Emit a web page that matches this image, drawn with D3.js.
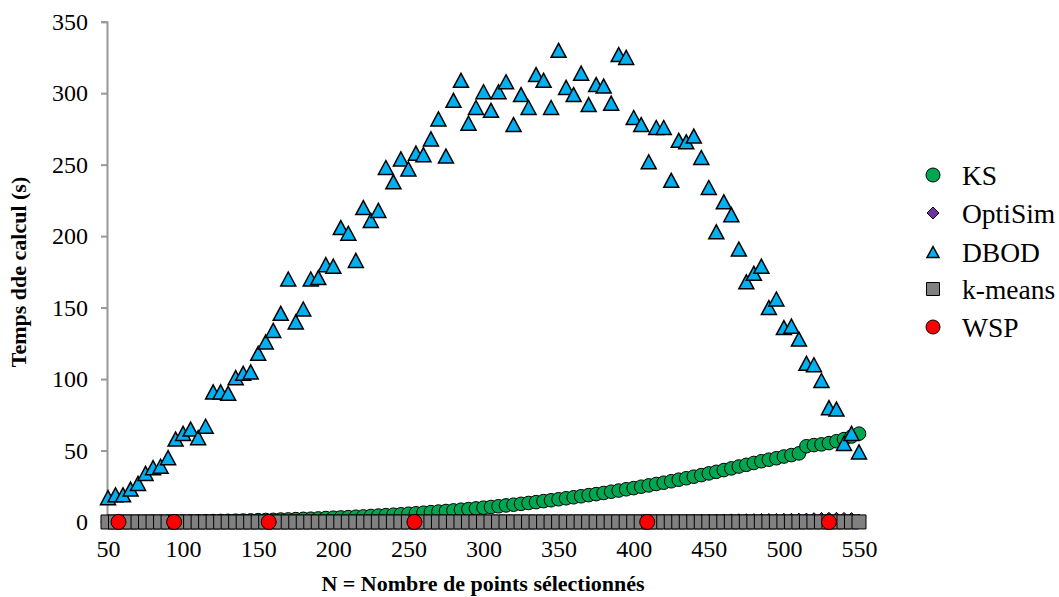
<!DOCTYPE html>
<html><head><meta charset="utf-8">
<script src="https://cdn.jsdelivr.net/npm/d3@7"></script>
<style>
html,body{margin:0;padding:0;background:#fff;}
text{font-family:"Liberation Serif","Times New Roman",serif;fill:#000;}
</style></head>
<body><svg id="c" width="1059" height="597"></svg>
<script>
// ---- data ----
const nValues = [50,55,60,65,70,75,80,85,90,95,100,105,110,115,120,125,130,135,140,145,150,155,160,165,170,175,180,185,190,195,200,205,210,215,220,225,230,235,240,245,250,255,260,265,270,275,280,285,290,295,300,305,310,315,320,325,330,335,340,345,350,355,360,365,370,375,380,385,390,395,400,405,410,415,420,425,430,435,440,445,450,455,460,465,470,475,480,485,490,495,500,505,510,515,520,525,530,535,540,545,550];
const ksValues = [0.05,0.06,0.08,0.1,0.13,0.16,0.19,0.23,0.27,0.32,0.37,0.43,0.49,0.56,0.64,0.72,0.81,0.91,1.0,1.1,1.25,1.4,1.5,1.7,1.8,2.0,2.2,2.3,2.5,2.8,3.0,3.2,3.4,3.7,3.9,4.2,4.5,4.8,5.1,5.4,5.8,6.1,6.5,6.9,7.3,7.7,8.1,8.6,9.0,9.5,10.0,10.5,11.0,11.6,12.1,12.7,13.3,13.9,14.6,15.2,15.9,16.6,17.3,18.0,18.8,19.5,20.3,21.2,22.0,22.9,23.7,24.7,25.6,26.6,27.5,28.5,29.6,30.6,31.7,32.8,34.0,35.1,36.3,37.5,38.8,40.0,41.3,42.5,43.6,44.6,45.8,46.8,48.0,53.0,53.8,54.3,55.2,56.5,58.0,59.8,61.8];
const optisimValues = [0.0,0.0,0.0,0.0,0.0,0.0,0.0,0.0,0.0,0.0,0.01,0.01,0.01,0.01,0.02,0.02,0.02,0.03,0.03,0.03,0.04,0.04,0.05,0.05,0.06,0.06,0.07,0.08,0.08,0.09,0.1,0.11,0.12,0.13,0.14,0.15,0.16,0.17,0.18,0.2,0.21,0.22,0.24,0.25,0.27,0.28,0.3,0.32,0.34,0.36,0.38,0.4,0.42,0.44,0.46,0.49,0.51,0.54,0.56,0.59,0.62,0.65,0.68,0.71,0.74,0.77,0.8,0.84,0.87,0.91,0.95,0.98,1.02,1.06,1.1,1.14,1.18,1.22,1.26,1.3,1.35,1.4,1.44,1.49,1.54,1.59,1.64,1.69,1.74,1.8,1.85,1.9,1.96,2.02,2.3,2.5,2.6,2.6,2.5,2.4,1.4];
const dbodValues = [17,19,19,23,27,34,38,39,45,58,62,65,59,67,91,91,90,101,104,105,118,126,134,146,170,140,149,170,171,180,179,206,202,183,220,211,218,248,238,254,247,258,257,268,282,256,295,309,279,290,301,288,301,308,278,299,290,313,309,290,330,304,299,314,292,306,305,293,327,325,283,278,252,276,276,239,267,266,270,255,234,203,224,215,191,168,174,179,150,156,136,137,128,111,110,99,80,79,55,62,49];
const kmeansValues = [0.01,0.01,0.01,0.01,0.01,0.01,0.01,0.01,0.01,0.01,0.01,0.01,0.01,0.01,0.01,0.01,0.01,0.01,0.01,0.01,0.02,0.02,0.02,0.02,0.02,0.02,0.02,0.02,0.02,0.02,0.02,0.02,0.02,0.02,0.02,0.02,0.02,0.02,0.02,0.02,0.03,0.03,0.03,0.03,0.03,0.03,0.03,0.03,0.03,0.03,0.03,0.03,0.03,0.03,0.03,0.03,0.03,0.03,0.03,0.03,0.04,0.04,0.04,0.04,0.04,0.04,0.04,0.04,0.04,0.04,0.04,0.04,0.04,0.04,0.04,0.04,0.04,0.04,0.04,0.04,0.05,0.05,0.05,0.05,0.05,0.05,0.05,0.05,0.05,0.05,0.05,0.05,0.05,0.05,0.05,0.05,0.05,0.05,0.05,0.05,0.05];
const wspN = [57,94,157,254,409,530];
const wspValues = [0.05,0.05,0.05,0.05,0.05,0.05];
const xTicks = [50,100,150,200,250,300,350,400,450,500,550];
const yTicks = [0,50,100,150,200,250,300,350];
const seriesNames = ["KS","OptiSim","DBOD","k-means","WSP"];

// ---- layout ----
const svg = d3.select("#c");
const x = d3.scaleLinear().domain([50,550]).range([108,859]);
const y = d3.scaleLinear().domain([0,350]).range([522,21.7]);
const axisColor = "#989898";

// y axis
const yAxis = svg.append("g").attr("transform","translate(107,0)")
  .call(d3.axisLeft(y).tickValues(yTicks).tickSize(6).tickPadding(13).tickFormat(d3.format("d")));
yAxis.select(".domain").attr("stroke",axisColor).attr("stroke-width",2);
yAxis.selectAll(".tick line").attr("stroke",axisColor).attr("stroke-width",2);
yAxis.selectAll("text").attr("font-size",24).attr("font-family","Liberation Serif").attr("fill","#000");

// x axis
const xAxis = svg.append("g").attr("transform","translate(0,522)")
  .call(d3.axisBottom(x).tickValues(xTicks).tickSize(0).tickPadding(18).tickFormat(d3.format("d")));
xAxis.select(".domain").attr("stroke",axisColor).attr("stroke-width",2);
xAxis.selectAll("text").attr("font-size",24).attr("font-family","Liberation Serif").attr("fill","#000");

// axis titles
svg.append("text").attr("transform","translate(26,272) rotate(-90)")
  .attr("text-anchor","middle").attr("font-weight","bold").attr("font-size",22)
  .text("Temps dde calcul (s)");
svg.append("text").attr("x",483).attr("y",591)
  .attr("text-anchor","middle").attr("font-weight","bold").attr("font-size",22)
  .text("N = Nombre de points sélectionnés");

// marker shapes
const tri = (w,h)=>`M${-w/2},${h/2}L${w/2},${h/2}L0,${-h/2}Z`;
const dia = (s)=>`M0,${-s}L${s},0L0,${s}L${-s},0Z`;
const sq = (s)=>`M${-s/2},${-s/2}h${s}v${s}h${-s}Z`;

const plot = svg.append("g");
// KS
plot.append("g").selectAll("circle").data(nValues.map((n,i)=>[n,ksValues[i]])).join("circle")
  .attr("cx",d=>x(d[0])).attr("cy",d=>y(d[1])).attr("r",6.8)
  .attr("fill","#00A651").attr("stroke","#000").attr("stroke-width",1);
// OptiSim
plot.append("g").selectAll("path").data(nValues.map((n,i)=>[n,optisimValues[i]])).join("path")
  .attr("transform",d=>`translate(${x(d[0])},${y(d[1])})`).attr("d",dia(6))
  .attr("fill","#7030A0").attr("stroke","#000").attr("stroke-width",1);
// DBOD
plot.append("g").selectAll("path").data(nValues.map((n,i)=>[n,dbodValues[i]])).join("path")
  .attr("transform",d=>`translate(${x(d[0])},${y(d[1])})`).attr("d",tri(15,14))
  .attr("fill","#00B0F0").attr("stroke","#000").attr("stroke-width",1.5).attr("stroke-linejoin","miter");
// k-means
plot.append("g").selectAll("path").data(nValues.map((n,i)=>[n,kmeansValues[i]])).join("path")
  .attr("transform",d=>`translate(${x(d[0])},${y(d[1])})`).attr("d",sq(14))
  .attr("fill","#808080").attr("stroke","#000").attr("stroke-width",1);
// WSP
plot.append("g").selectAll("circle").data(wspN.map((n,i)=>[n,wspValues[i]])).join("circle")
  .attr("cx",d=>x(d[0])).attr("cy",d=>y(d[1])).attr("r",7.5)
  .attr("fill","#FF0000").attr("stroke","#000").attr("stroke-width",1);

// legend
const legend = svg.append("g");
const legY = [175,213,252,289,327];
const legDraw = [
  g=>g.append("circle").attr("r",7).attr("fill","#00A651").attr("stroke","#000").attr("stroke-width",1),
  g=>g.append("path").attr("d",dia(6)).attr("fill","#7030A0").attr("stroke","#000").attr("stroke-width",1),
  g=>g.append("path").attr("d",tri(12,11)).attr("fill","#00B0F0").attr("stroke","#000").attr("stroke-width",1.5),
  g=>g.append("path").attr("d",sq(13)).attr("fill","#808080").attr("stroke","#000").attr("stroke-width",1),
  g=>g.append("circle").attr("r",7).attr("fill","#FF0000").attr("stroke","#000").attr("stroke-width",1)
];
seriesNames.forEach((name,i)=>{
  const g = legend.append("g").attr("transform",`translate(933,${legY[i]})`);
  legDraw[i](g);
  legend.append("text").attr("x",962).attr("y",legY[i]).attr("dy","0.35em")
    .attr("font-size",27.5).text(name);
});
</script></body></html>
